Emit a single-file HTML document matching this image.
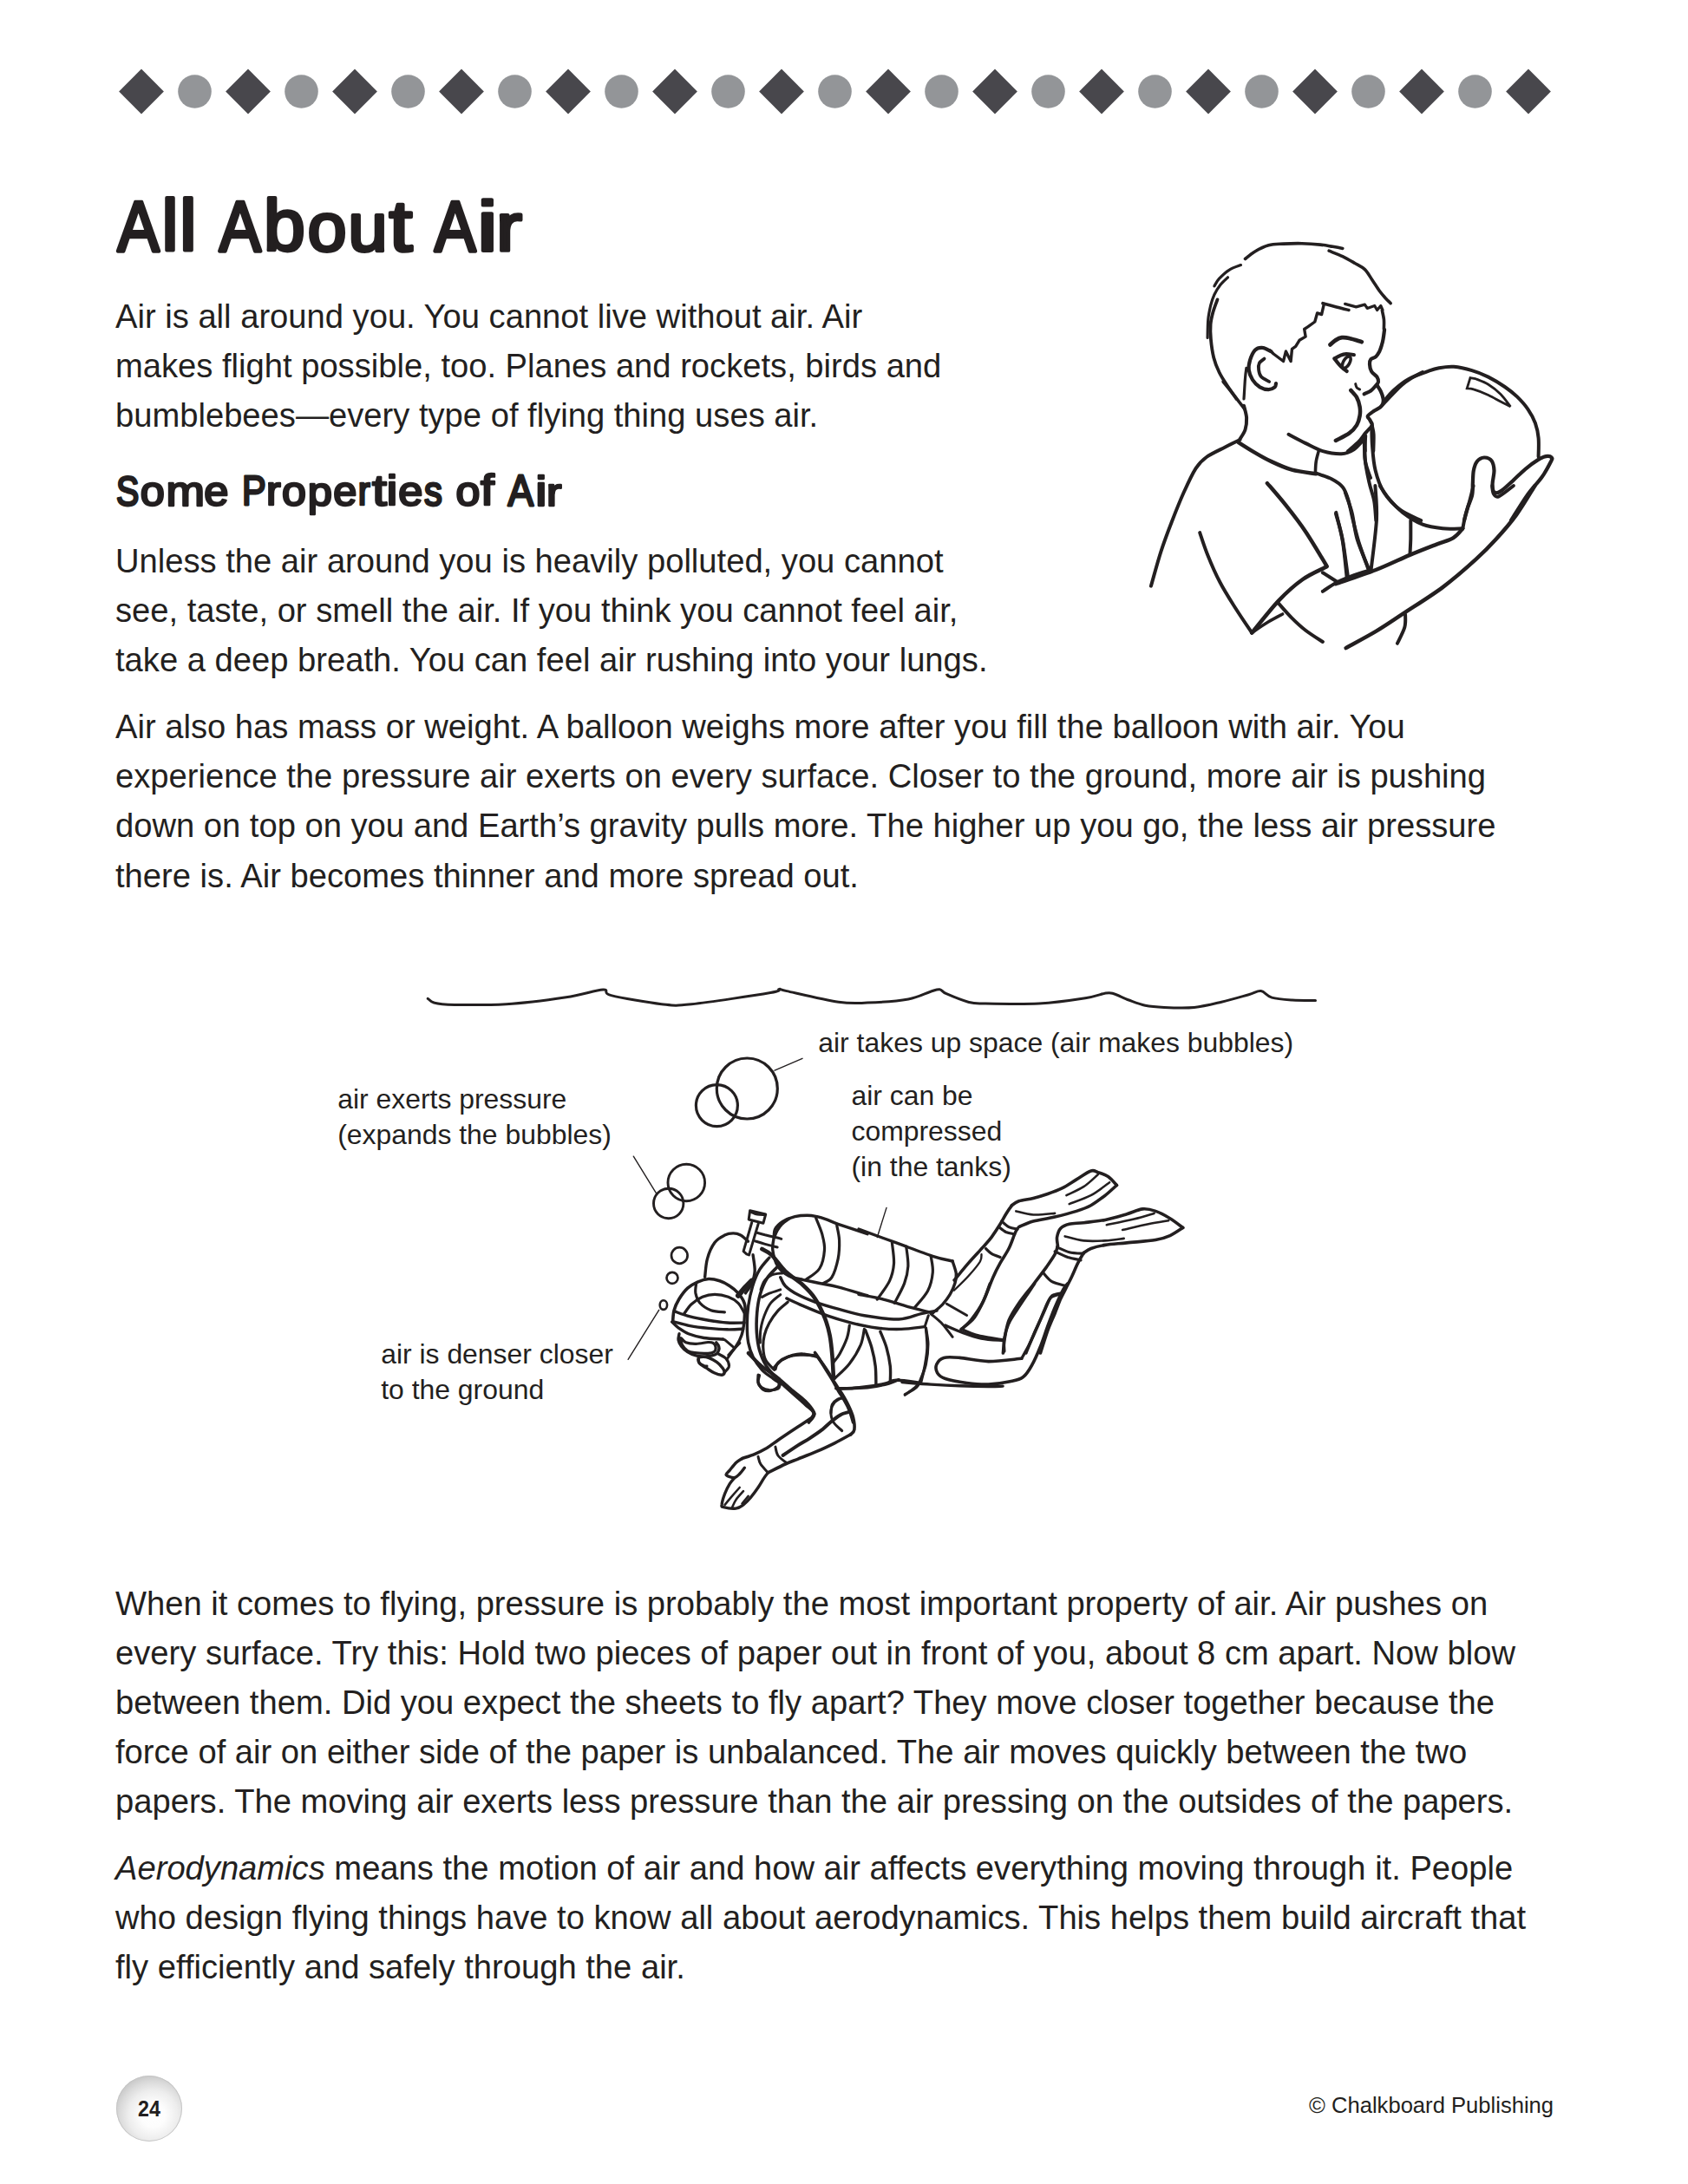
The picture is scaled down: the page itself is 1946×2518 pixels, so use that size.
<!DOCTYPE html>
<html><head><meta charset="utf-8"><style>
html,body{margin:0;padding:0;background:#fff;}
body{width:1946px;height:2518px;position:relative;overflow:hidden;font-family:"Liberation Sans",sans-serif;color:#231f20;}
.l{position:absolute;left:133px;font-size:38.17px;line-height:57.1px;white-space:nowrap;}
.lb{position:absolute;font-size:31.9px;line-height:41px;white-space:nowrap;}
.h1{position:absolute;left:131px;top:0;font-weight:bold;white-space:nowrap;}
svg{position:absolute;left:0;top:0;}
</style></head><body>
<svg width="1946" height="200" viewBox="0 0 1946 200"><rect x="144.7" y="87.2" width="36.6" height="36.6" transform="rotate(45 163.0 105.5)" fill="#48474c"/><circle cx="224.5" cy="105.5" r="19.3" fill="#939598"/><rect x="267.7" y="87.2" width="36.6" height="36.6" transform="rotate(45 286.0 105.5)" fill="#48474c"/><circle cx="347.5" cy="105.5" r="19.3" fill="#939598"/><rect x="390.7" y="87.2" width="36.6" height="36.6" transform="rotate(45 409.0 105.5)" fill="#48474c"/><circle cx="470.5" cy="105.5" r="19.3" fill="#939598"/><rect x="513.7" y="87.2" width="36.6" height="36.6" transform="rotate(45 532.0 105.5)" fill="#48474c"/><circle cx="593.5" cy="105.5" r="19.3" fill="#939598"/><rect x="636.7" y="87.2" width="36.6" height="36.6" transform="rotate(45 655.0 105.5)" fill="#48474c"/><circle cx="716.5" cy="105.5" r="19.3" fill="#939598"/><rect x="759.7" y="87.2" width="36.6" height="36.6" transform="rotate(45 778.0 105.5)" fill="#48474c"/><circle cx="839.5" cy="105.5" r="19.3" fill="#939598"/><rect x="882.7" y="87.2" width="36.6" height="36.6" transform="rotate(45 901.0 105.5)" fill="#48474c"/><circle cx="962.5" cy="105.5" r="19.3" fill="#939598"/><rect x="1005.7" y="87.2" width="36.6" height="36.6" transform="rotate(45 1024.0 105.5)" fill="#48474c"/><circle cx="1085.5" cy="105.5" r="19.3" fill="#939598"/><rect x="1128.7" y="87.2" width="36.6" height="36.6" transform="rotate(45 1147.0 105.5)" fill="#48474c"/><circle cx="1208.5" cy="105.5" r="19.3" fill="#939598"/><rect x="1251.7" y="87.2" width="36.6" height="36.6" transform="rotate(45 1270.0 105.5)" fill="#48474c"/><circle cx="1331.5" cy="105.5" r="19.3" fill="#939598"/><rect x="1374.7" y="87.2" width="36.6" height="36.6" transform="rotate(45 1393.0 105.5)" fill="#48474c"/><circle cx="1454.5" cy="105.5" r="19.3" fill="#939598"/><rect x="1497.7" y="87.2" width="36.6" height="36.6" transform="rotate(45 1516.0 105.5)" fill="#48474c"/><circle cx="1577.5" cy="105.5" r="19.3" fill="#939598"/><rect x="1620.7" y="87.2" width="36.6" height="36.6" transform="rotate(45 1639.0 105.5)" fill="#48474c"/><circle cx="1700.5" cy="105.5" r="19.3" fill="#939598"/><rect x="1743.7" y="87.2" width="36.6" height="36.6" transform="rotate(45 1762.0 105.5)" fill="#48474c"/></svg>
<svg width="1946" height="700" viewBox="0 0 1946 700" style="position:absolute;left:0;top:0"><g font-family="Liberation Sans" fill="#231f20" stroke="#231f20" stroke-linejoin="round" stroke-linecap="round"><text font-size="84" stroke-width="4.37" transform="translate(135.46 289.30) scale(0.8582 0.9742)">A</text><text font-size="84" stroke-width="3.99" transform="translate(186.45 289.30) scale(1.0159 0.9890)">l</text><text font-size="84" stroke-width="3.91" transform="translate(206.92 289.30) scale(1.0565 0.9890)">l</text><text font-size="84" stroke-width="4.37" transform="translate(252.76 289.30) scale(0.8582 0.9742)">A</text><text font-size="84" stroke-width="3.99" transform="translate(303.97 288.99) scale(1.0218 0.9840)">b</text><text font-size="84" stroke-width="4.26" transform="translate(354.63 289.04) scale(0.9556 0.9213)">o</text><text font-size="84" stroke-width="4.25" transform="translate(401.54 289.05) scale(0.9640 0.9204)">u</text><text font-size="84" stroke-width="3.72" transform="translate(448.53 289.14) scale(1.1561 0.9989)">t</text><text font-size="84" stroke-width="4.40" transform="translate(500.96 289.30) scale(0.8474 0.9742)">A</text><text font-size="84" stroke-width="3.56" transform="translate(549.79 289.30) scale(1.3003 0.9726)">i</text><text font-size="84" stroke-width="4.02" transform="translate(571.95 289.30) scale(1.0667 0.9270)">r</text><text font-size="52" stroke-width="3.08" transform="translate(134.11 582.52) scale(0.7583 0.9425)">S</text><text font-size="52" stroke-width="2.77" transform="translate(161.78 582.54) scale(0.9693 0.9091)">o</text><text font-size="52" stroke-width="2.69" transform="translate(191.56 582.50) scale(1.0265 0.9078)">m</text><text font-size="52" stroke-width="2.76" transform="translate(235.35 582.54) scale(0.9754 0.9091)">e</text><text font-size="52" stroke-width="3.02" transform="translate(278.89 582.20) scale(0.7985 0.9252)">P</text><text font-size="52" stroke-width="2.80" transform="translate(306.98 582.20) scale(0.9615 0.8971)">r</text><text font-size="52" stroke-width="2.78" transform="translate(324.89 582.54) scale(0.9653 0.9091)">o</text><text font-size="52" stroke-width="2.80" transform="translate(354.63 582.65) scale(0.9750 0.8853)">p</text><text font-size="52" stroke-width="2.81" transform="translate(384.23 582.54) scale(0.9385 0.9091)">e</text><text font-size="52" stroke-width="3.05" transform="translate(412.81 582.20) scale(0.8077 0.8971)">r</text><text font-size="52" stroke-width="2.44" transform="translate(428.88 582.61) scale(1.1748 0.9640)">t</text><text font-size="52" stroke-width="2.55" transform="translate(445.62 582.20) scale(1.1159 0.9315)">i</text><text font-size="52" stroke-width="2.76" transform="translate(459.15 582.54) scale(0.9754 0.9091)">e</text><text font-size="52" stroke-width="3.04" transform="translate(488.94 582.54) scale(0.8027 0.9116)">s</text><text font-size="52" stroke-width="2.78" transform="translate(525.59 582.54) scale(0.9653 0.9091)">o</text><text font-size="52" stroke-width="2.55" transform="translate(554.00 582.20) scale(1.0880 0.9567)">f</text><text font-size="52" stroke-width="2.88" transform="translate(585.61 582.50) scale(0.8527 0.9560)">A</text><text font-size="52" stroke-width="2.46" transform="translate(616.99 582.50) scale(1.1815 0.9422)">i</text><text font-size="52" stroke-width="2.78" transform="translate(629.92 582.50) scale(1.0077 0.8685)">r</text></g></svg>
<div class="l" style="top:335.5px">Air is all around you. You cannot live without air. Air</div><div class="l" style="top:392.6px">makes flight possible, too. Planes and rockets, birds and</div><div class="l" style="top:449.7px">bumblebees—every type of flying thing uses air.</div><div class="l" style="top:617.7px">Unless the air around you is heavily polluted, you cannot</div><div class="l" style="top:674.8px">see, taste, or smell the air. If you think you cannot feel air,</div><div class="l" style="top:731.9px">take a deep breath. You can feel air rushing into your lungs.</div><div class="l" style="top:809.2px">Air also has mass or weight. A balloon weighs more after you fill the balloon with air. You</div><div class="l" style="top:866.3px">experience the pressure air exerts on every surface. Closer to the ground, more air is pushing</div><div class="l" style="top:923.4px">down on top on you and Earth’s gravity pulls more. The higher up you go, the less air pressure</div><div class="l" style="top:980.5px">there is. Air becomes thinner and more spread out.</div><div class="l" style="top:1819.6px">When it comes to flying, pressure is probably the most important property of air. Air pushes on</div><div class="l" style="top:1876.7px">every surface. Try this: Hold two pieces of paper out in front of you, about 8 cm apart. Now blow</div><div class="l" style="top:1933.8px">between them. Did you expect the sheets to fly apart? They move closer together because the</div><div class="l" style="top:1990.9px">force of air on either side of the paper is unbalanced. The air moves quickly between the two</div><div class="l" style="top:2048.0px">papers. The moving air exerts less pressure than the air pressing on the outsides of the papers.</div><div class="l" style="top:2125.2px"><i>Aerodynamics</i> means the motion of air and how air affects everything moving through it. People</div><div class="l" style="top:2182.3px">who design flying things have to know all about aerodynamics. This helps them build aircraft that</div><div class="l" style="top:2239.4px">fly efficiently and safely through the air.</div><div class="lb" style="left:943.3px;top:1181.6px">air takes up space (air makes bubbles)</div><div class="lb" style="left:389.2px;top:1246.6px">air exerts pressure</div><div class="lb" style="left:389.2px;top:1287.6px">(expands the bubbles)</div><div class="lb" style="left:981.5px;top:1243.0px">air can be</div><div class="lb" style="left:981.5px;top:1284.0px">compressed</div><div class="lb" style="left:981.5px;top:1325.0px">(in the tanks)</div><div class="lb" style="left:439.2px;top:1540.6px">air is denser closer</div><div class="lb" style="left:439.2px;top:1581.6px">to the ground</div>
<svg width="1946" height="2518" viewBox="0 0 1946 2518" style="position:absolute;left:0;top:0"><g fill="none" stroke="#231f20" stroke-linecap="round" stroke-linejoin="round"><path d="M1435.5,298.5C1437.3,297.1 1442.3,292.6 1446.8,290.0C1451.3,287.3 1457.0,284.3 1462.5,282.8C1467.9,281.4 1473.1,281.5 1479.5,281.1C1485.9,280.8 1493.7,280.5 1500.9,280.7C1508.0,280.9 1516.3,281.5 1522.2,282.1C1528.1,282.7 1532.1,283.6 1536.4,284.3C1540.7,285.0 1545.9,286.0 1547.8,286.4" stroke-width="3.6"/><path d="M1532.1,289.2C1534.7,290.3 1542.8,293.3 1547.8,295.6C1552.7,298.0 1557.7,301.0 1562.0,303.5C1566.3,305.9 1570.0,307.4 1573.4,310.6C1576.7,313.8 1579.1,318.5 1581.9,322.7C1584.7,326.8 1587.8,331.9 1590.4,335.5C1593.0,339.0 1595.4,341.6 1597.5,344.0C1599.7,346.4 1602.3,348.7 1603.2,349.7" stroke-width="3.6"/><path d="M1430.5,305.6C1428.2,306.5 1421.1,308.7 1417.0,311.3C1412.8,313.9 1408.4,318.2 1405.6,321.2C1402.7,324.3 1400.9,328.3 1399.9,329.8" stroke-width="3.2"/><path d="M1415.5,319.8C1414.1,321.2 1409.6,325.0 1407.0,328.3C1404.4,331.7 1401.8,335.7 1399.9,339.7C1398.0,343.7 1396.8,347.8 1395.6,352.5C1394.5,357.3 1393.4,362.0 1392.8,368.2C1392.2,374.3 1392.2,385.9 1392.1,389.5" stroke-width="3.2"/><path d="M1403.5,345.4C1402.6,347.8 1399.8,354.9 1398.5,359.6C1397.2,364.4 1396.1,368.6 1395.6,373.8C1395.2,379.1 1395.3,384.5 1395.9,390.9C1396.5,397.3 1397.6,405.8 1399.2,412.2C1400.8,418.6 1403.1,424.1 1405.6,429.3C1408.1,434.5 1410.8,438.4 1414.1,443.5C1417.4,448.6 1423.6,457.3 1425.5,460.0" stroke-width="3.8"/><path d="M1525.0,349.7C1527.6,350.4 1535.7,352.6 1540.7,353.9C1545.6,355.2 1552.5,356.9 1554.9,357.5" stroke-width="3.6"/><path d="M1550.6,350.4 L1563.4,353.9 L1573.4,351.1 L1576.2,355.4 L1584.7,352.5 L1587.6,357.5 L1591.8,352.5 L1594.0,357.5" stroke-width="3.2"/><path d="M1526.4,350.4 L1523.6,362.5 L1518.6,361.0 L1515.8,371.0 L1508.0,376.7 L1503.7,379.5 L1505.1,388.1 L1498.0,392.3 L1493.7,399.4 L1489.5,402.3 L1488.1,416.5 L1482.4,405.1 L1479.5,416.5 L1468.2,408.0 L1463.9,403.7" stroke-width="3.4"/><path d="M1465.3,405.1C1463.6,404.4 1458.4,401.1 1455.4,400.9C1452.3,400.6 1449.2,401.3 1446.8,403.7C1444.5,406.1 1442.3,411.3 1441.1,415.1C1440.0,418.9 1439.2,422.7 1439.7,426.4C1440.2,430.2 1441.8,434.5 1444.0,437.8C1446.1,441.1 1449.4,444.5 1452.5,446.4C1455.6,448.2 1459.6,449.2 1462.5,449.2C1465.3,449.2 1468.2,447.5 1469.6,446.4C1471.0,445.2 1470.8,442.8 1471.0,442.1" stroke-width="4.2"/><path d="M1457.5,413.6C1456.5,414.5 1452.9,416.5 1451.8,418.6C1450.7,420.8 1450.7,423.8 1451.1,426.4C1451.4,429.1 1451.9,432.0 1453.9,434.3C1455.9,436.5 1461.6,439.0 1463.2,440.0" stroke-width="3.8"/><path d="M1436.9,424.3C1436.6,426.3 1435.9,430.5 1435.5,436.4C1435.0,442.3 1434.3,456.1 1434.0,460.0" stroke-width="3.2"/><path d="M1593.3,357.5C1593.6,359.3 1595.0,364.5 1595.4,368.2C1595.8,371.8 1595.4,377.6 1595.4,379.5" stroke-width="3.6"/><path d="M1410.1,440.0C1411.8,442.1 1416.8,448.1 1420.1,452.3C1423.5,456.6 1427.7,462.2 1430.1,465.4C1432.6,468.6 1434.0,470.5 1434.8,471.6" stroke-width="3.6"/><path d="M1533.5,397.4C1534.6,396.5 1537.7,393.4 1539.9,392.1C1542.2,390.7 1544.4,389.6 1547.0,389.2C1549.6,388.9 1551.8,389.1 1555.5,390.0C1559.3,390.8 1567.4,393.5 1569.8,394.2" stroke-width="4.8"/><path d="M1538.5,413.4C1539.5,412.8 1542.6,410.7 1544.9,409.9C1547.1,409.0 1549.3,408.2 1552.0,408.1C1554.7,408.0 1559.4,409.0 1560.9,409.1" stroke-width="4.2"/><path d="M1538.5,413.4C1539.3,414.5 1541.8,417.9 1543.5,419.8C1545.1,421.7 1546.9,423.4 1548.4,424.8C1550.0,426.1 1552.0,427.5 1552.7,428.0" stroke-width="4.2"/><path d="M1596.1,380.0C1595.8,381.8 1595.2,387.5 1594.6,390.7C1594.1,393.9 1593.2,396.8 1592.5,399.2C1591.8,401.6 1591.4,402.9 1590.4,404.9C1589.3,406.9 1587.8,409.7 1586.1,411.3C1584.5,412.8 1581.6,412.7 1580.4,414.1C1579.2,415.5 1578.9,417.4 1579.0,419.8C1579.1,422.2 1579.7,425.9 1581.1,428.3C1582.6,430.8 1586.2,432.7 1587.5,434.7C1588.8,436.8 1589.3,438.6 1589.0,440.4C1588.6,442.2 1586.8,443.7 1585.4,445.4C1584.0,447.1 1582.6,448.9 1580.4,450.4C1578.3,451.9 1573.9,453.6 1572.6,454.3" stroke-width="4.2"/><path d="M1587.5,444.0C1588.2,445.2 1590.6,448.5 1591.8,451.1C1593.0,453.7 1594.2,457.3 1594.6,459.6C1595.1,462.0 1594.9,463.6 1594.3,465.3C1593.7,467.0 1592.8,468.2 1591.1,469.6C1589.4,471.0 1586.4,472.2 1584.0,473.8C1581.6,475.5 1577.7,477.9 1576.9,479.5C1576.0,481.2 1578.2,482.3 1579.0,483.8C1579.8,485.3 1581.4,487.9 1581.8,488.8" stroke-width="4.2"/><path d="M1593.9,466.7C1595.8,464.7 1601.6,458.4 1605.3,454.6C1609.0,450.9 1612.4,447.1 1616.0,444.0C1619.5,440.9 1622.6,438.6 1626.6,436.2C1630.6,433.7 1637.8,430.2 1640.0,429.1" stroke-width="4"/><path d="M1557.3,450.0C1558.4,451.4 1562.4,455.1 1564.1,458.2C1565.8,461.3 1567.0,465.3 1567.6,468.9C1568.2,472.4 1568.2,476.0 1567.6,479.5C1567.0,483.1 1566.1,486.9 1564.1,490.2C1562.1,493.5 1559.6,496.5 1555.5,499.4C1551.5,502.4 1542.5,506.5 1539.9,508.0" stroke-width="4.5"/><path d="M1562.7,442.6C1562.9,443.3 1563.2,445.8 1564.1,446.8C1564.9,447.9 1567.0,448.6 1567.6,449.0" stroke-width="3"/><path d="M1581.8,490.9C1580.5,492.3 1576.6,496.4 1574.0,499.4C1571.4,502.5 1569.5,506.0 1566.2,509.4C1562.9,512.8 1556.1,518.2 1554.1,520.0" stroke-width="4"/><path d="M1581.8,490.9C1582.1,492.6 1583.4,496.0 1583.6,500.9C1583.9,505.7 1583.3,516.8 1583.3,520.0" stroke-width="4"/><path d="M1573.3,500.9L1574.0,520.0" stroke-width="3.6"/><path d="M1595.5,462.6C1597.4,460.4 1602.2,454.0 1606.9,449.8C1611.7,445.5 1617.6,440.5 1624.0,437.0C1630.4,433.4 1639.5,430.6 1645.3,428.4C1651.1,426.3 1653.8,425.2 1659.0,424.2C1664.1,423.3 1669.7,422.3 1676.0,422.8C1682.3,423.3 1690.2,425.1 1696.9,427.1C1703.5,429.0 1709.5,431.5 1715.8,434.6C1722.1,437.8 1729.3,442.2 1734.8,446.0C1740.3,449.8 1744.6,453.1 1749.0,457.4C1753.4,461.7 1757.9,466.6 1761.3,471.6C1764.8,476.7 1767.8,482.2 1769.9,487.7C1771.9,493.3 1773.0,498.3 1773.6,504.8C1774.3,511.3 1773.6,523.0 1773.6,526.6" stroke-width="4"/><path d="M1581.3,491.0C1581.4,494.8 1581.3,505.2 1582.0,513.7C1582.7,522.3 1583.3,533.2 1585.6,542.2C1587.8,551.2 1590.8,560.2 1595.5,567.8C1600.3,575.4 1606.9,582.3 1614.0,587.7C1621.1,593.1 1634.2,598.0 1638.2,600.0" stroke-width="4"/><path d="M1574.2,502.4C1574.1,506.6 1572.8,519.0 1573.5,528.0C1574.2,537.0 1576.7,548.1 1578.5,556.4C1580.3,564.7 1582.9,570.5 1584.2,577.7C1585.5,585.0 1585.9,596.3 1586.3,600.0" stroke-width="4"/><path d="M1688.0,600.0C1688.7,597.5 1690.7,589.7 1692.2,584.8C1693.8,579.9 1696.3,575.1 1697.2,570.6C1698.1,566.1 1697.6,562.5 1697.8,557.9C1698.1,553.2 1698.0,547.0 1698.8,542.7C1699.6,538.4 1700.5,534.8 1702.6,532.3C1704.6,529.7 1708.2,527.7 1711.1,527.5C1713.9,527.4 1717.7,528.8 1719.6,531.3C1721.5,533.9 1722.3,538.3 1722.5,542.7C1722.6,547.1 1720.6,553.8 1720.6,557.9C1720.6,562.0 1720.9,565.9 1722.5,567.3C1724.0,568.8 1726.4,568.6 1730.0,566.4C1733.7,564.2 1739.5,558.3 1744.3,554.1C1749.0,549.8 1753.7,544.8 1758.5,540.8C1763.2,536.9 1768.8,532.8 1772.7,530.4C1776.7,527.9 1779.5,526.6 1782.2,526.1C1784.9,525.6 1787.9,526.5 1788.8,527.5C1789.8,528.6 1789.8,528.5 1787.9,532.3C1786.0,536.1 1781.9,544.0 1777.4,550.3C1773.0,556.6 1767.2,561.7 1761.3,570.0C1755.4,578.3 1745.2,595.0 1742.0,600.0" stroke-width="4.2"/><path d="M1434.0,467.7C1434.5,470.0 1436.8,477.0 1437.1,481.6C1437.3,486.2 1436.8,491.3 1435.5,495.5C1434.2,499.6 1430.4,504.4 1429.4,506.2" stroke-width="4"/><path d="M1429.4,507.0C1426.5,508.4 1418.8,512.1 1412.4,515.5C1406.0,518.8 1396.5,522.9 1390.9,527.0C1385.2,531.1 1382.9,533.3 1378.5,540.1C1374.2,546.9 1369.3,557.6 1364.7,567.8C1360.0,578.1 1355.2,590.4 1350.8,601.7C1346.4,613.0 1342.5,623.3 1338.5,635.6C1334.5,647.9 1328.9,669.0 1326.9,675.7" stroke-width="4"/><path d="M1427.8,510.1C1430.9,512.0 1439.9,517.9 1446.3,521.6C1452.7,525.4 1459.1,529.1 1466.3,532.4C1473.5,535.8 1481.0,539.3 1489.4,541.7C1497.9,544.0 1512.5,545.5 1517.2,546.3" stroke-width="4.5"/><path d="M1520.2,520.1C1519.7,522.1 1517.8,528.1 1517.2,532.4C1516.5,536.8 1516.5,544.0 1516.4,546.3" stroke-width="3.6"/><path d="M1485.6,500.8C1488.8,502.5 1498.3,507.6 1504.8,510.9C1511.4,514.1 1517.9,518.0 1524.9,520.1C1531.8,522.1 1540.5,523.4 1546.4,523.2C1552.3,522.9 1555.9,521.4 1560.3,518.6C1564.6,515.7 1570.6,508.3 1572.6,506.2" stroke-width="4"/><path d="M1517.2,545.5C1520.2,546.7 1530.5,549.7 1535.6,552.4C1540.8,555.1 1544.9,557.8 1548.0,561.7C1551.0,565.5 1552.2,569.4 1554.1,575.5C1556.0,581.7 1557.5,590.4 1559.5,598.6C1561.6,606.9 1563.5,615.3 1566.4,624.8C1569.4,634.3 1575.4,650.5 1577.2,655.6" stroke-width="4"/><path d="M1572.6,504.7C1572.9,509.3 1572.9,524.7 1574.1,532.4C1575.4,540.1 1579.0,547.8 1580.0,550.9" stroke-width="4"/><path d="M1460.9,557.1C1464.4,561.2 1474.4,572.5 1481.7,581.7C1489.0,590.9 1496.9,600.7 1504.8,612.5C1512.8,624.3 1525.4,645.9 1529.5,652.6" stroke-width="4.5"/><path d="M1529.5,653.3C1524.9,655.8 1511.0,661.4 1501.8,668.0C1492.5,674.5 1483.8,682.3 1474.0,692.6C1464.3,702.9 1448.4,723.4 1443.2,729.6" stroke-width="4.5"/><path d="M1383.2,614.1C1384.7,618.4 1388.5,630.7 1392.4,640.2C1396.2,649.7 1400.9,660.8 1406.3,671.0C1411.6,681.3 1418.6,692.1 1424.7,701.8C1430.9,711.6 1440.1,725.0 1443.2,729.6" stroke-width="4"/><path d="M1443.2,729.6C1446.3,727.5 1455.8,720.8 1461.7,717.3C1467.6,713.7 1475.8,709.5 1478.6,708.0" stroke-width="3.6"/><path d="M1474.0,695.7C1476.6,698.5 1484.3,707.5 1489.4,712.6C1494.6,717.8 1498.9,721.9 1504.8,726.5C1510.7,731.1 1521.5,737.8 1524.9,740.0" stroke-width="4"/><path d="M1540.3,590.9C1541.5,596.6 1545.9,612.5 1548.0,624.8C1550.0,637.2 1551.8,658.2 1552.6,664.9" stroke-width="4"/><path d="M1524.9,681.8C1527.7,680.0 1535.9,674.1 1541.8,671.0C1547.7,668.0 1553.9,665.7 1560.3,663.3C1566.7,661.0 1576.7,658.2 1580.0,657.2" stroke-width="4"/><path d="M1524.9,660.3L1541.8,671.0" stroke-width="4"/><path d="M1540.0,673.2C1547.7,670.5 1572.1,662.6 1586.2,657.0C1600.3,651.5 1613.2,645.0 1624.7,640.1C1636.3,635.2 1647.0,631.1 1655.5,627.8C1664.0,624.4 1670.4,623.2 1675.5,620.1C1680.7,617.0 1684.5,611.1 1686.3,609.3" stroke-width="4.5"/><path d="M1590.8,560.0C1592.6,562.6 1597.2,570.3 1601.6,575.4C1606.0,580.5 1610.6,585.9 1617.0,590.8C1623.4,595.7 1632.4,601.6 1640.1,604.7C1647.8,607.7 1655.5,608.5 1663.2,609.3C1670.9,610.1 1682.5,609.3 1686.3,609.3" stroke-width="4"/><path d="M1686.3,609.3C1686.8,606.7 1688.1,599.0 1689.4,593.9C1690.7,588.8 1692.5,584.1 1694.0,578.5C1695.6,572.8 1697.9,563.1 1698.6,560.0" stroke-width="4"/><path d="M1551.6,747.1C1557.3,743.9 1575.3,734.4 1586.2,727.9C1597.1,721.3 1604.2,716.3 1617.0,707.9C1629.8,699.4 1649.1,687.6 1663.2,677.1C1677.3,666.5 1691.5,654.0 1701.7,644.7C1712.0,635.5 1717.1,630.1 1724.8,621.6C1732.5,613.1 1740.5,604.2 1747.9,593.9C1755.4,583.6 1765.9,565.6 1769.5,560.0" stroke-width="4.5"/><path d="M1620.1,708.6C1620.0,711.1 1620.9,717.8 1619.3,723.3C1617.8,728.8 1612.3,738.7 1610.9,741.8" stroke-width="4"/><path d="M1540.0,592.3C1541.3,597.2 1545.4,609.5 1547.7,621.6C1550.0,633.7 1552.8,657.6 1553.9,664.7" stroke-width="4"/><path d="M1550.8,567.7C1552.1,571.6 1556.2,581.8 1558.5,590.8C1560.8,599.8 1561.4,610.8 1564.6,621.6C1567.9,632.4 1575.6,649.8 1577.7,655.5" stroke-width="4"/><path d="M1585.4,560.0C1585.7,566.4 1587.7,582.6 1587.0,598.5C1586.2,614.4 1581.8,646.0 1580.8,655.5" stroke-width="4"/><path d="M1626.3,600.0C1626.3,603.6 1626.4,615.2 1626.3,621.6C1626.1,628.0 1625.6,635.7 1625.5,638.6" stroke-width="4"/><path d="M1720.2,560.0C1720.5,561.5 1720.5,567.2 1721.8,569.2C1723.0,571.3 1724.1,573.9 1727.9,572.3C1731.8,570.8 1742.0,562.1 1744.9,560.0" stroke-width="4"/></g><path fill="none" stroke="#231f20" stroke-width="2.8" stroke-linejoin="miter" d="M1695.0,435.6 L1700.7,436.5C1703.2,437.6 1710.9,440.2 1715.8,443.2C1720.7,446.2 1725.8,450.3 1730.0,454.5C1734.3,458.8 1739.5,466.4 1741.4,468.8 L1741.4,468.8C1739.5,467.8 1734.3,465.3 1730.0,463.1C1725.8,460.9 1721.0,457.9 1715.8,455.5C1710.6,453.1 1702.9,450.1 1698.8,448.9C1694.7,447.6 1692.4,448.1 1691.2,447.9 Z"/><ellipse cx="1552.3" cy="417.7" rx="3.6" ry="7.5" transform="rotate(30 1552.3 417.7)" fill="none" stroke="#231f20" stroke-width="3.6"/></svg>
<svg width="1946" height="2518" viewBox="0 0 1946 2518" style="position:absolute;left:0;top:0"><g fill="none" stroke="#231f20" stroke-linecap="round" stroke-linejoin="round"><path stroke-width="3" d="M493.2,1151.4C496.0,1152.5 494.7,1156.7 509.8,1157.7C524.9,1158.8 559.8,1159.0 583.6,1157.7C607.4,1156.4 634.1,1152.6 652.7,1149.8C671.3,1147.0 686.5,1141.4 695.1,1141.0C703.7,1140.6 693.2,1144.8 704.5,1147.6C715.8,1150.4 747.2,1156.0 762.6,1157.7C778.0,1159.4 776.2,1159.9 797.1,1157.7C818.0,1155.5 871.4,1147.4 888.2,1144.5C905.1,1141.6 895.1,1140.7 898.2,1140.4C901.3,1140.1 895.6,1140.1 907.0,1142.6C918.4,1145.1 951.1,1153.0 966.6,1155.2C982.1,1157.5 986.6,1156.6 1000.0,1156.1C1013.4,1155.6 1035.1,1154.1 1047.1,1152.0C1059.1,1149.9 1066.2,1145.4 1072.2,1143.5C1078.2,1141.6 1080.1,1140.3 1083.2,1140.7C1086.3,1141.1 1085.5,1143.3 1091.0,1145.7C1096.5,1148.1 1108.9,1153.3 1116.2,1155.2C1123.5,1157.1 1121.4,1156.7 1135.0,1157.0C1148.6,1157.3 1178.4,1158.0 1197.8,1157.0C1217.2,1156.0 1238.4,1152.8 1251.2,1150.8C1264.0,1148.8 1269.2,1145.9 1274.7,1145.1C1280.2,1144.2 1279.6,1144.4 1284.1,1145.7C1288.5,1147.0 1295.4,1150.8 1301.4,1153.0C1307.4,1155.2 1313.5,1157.8 1320.3,1159.2C1327.1,1160.6 1332.8,1161.0 1342.2,1161.4C1351.6,1161.8 1365.8,1162.4 1376.8,1161.4C1387.8,1160.4 1397.7,1157.7 1408.2,1155.2C1418.7,1152.8 1432.0,1148.8 1439.6,1146.7C1447.2,1144.6 1449.3,1142.0 1453.7,1142.6C1458.1,1143.2 1460.2,1148.4 1466.2,1150.1C1472.2,1151.8 1481.4,1152.4 1489.8,1153.0C1498.2,1153.6 1512.0,1153.5 1516.5,1153.6"/><circle cx="861.3" cy="1255" r="35" stroke-width="3.2"/><circle cx="826.4" cy="1274.6" r="24" stroke-width="3.2"/><circle cx="791.3" cy="1363.5" r="21.3" stroke-width="2.9"/><circle cx="770.7" cy="1387.5" r="17.2" stroke-width="2.9"/><circle cx="783.3" cy="1447.5" r="9.3" stroke-width="2.7"/><circle cx="775" cy="1473.3" r="6.5" stroke-width="2.7"/><ellipse cx="764.9" cy="1504.6" rx="4.2" ry="5.3" stroke-width="2.6"/><path stroke-width="1.4" d="M893,1234.1 L925,1220.3"/><path stroke-width="1.4" d="M730.3,1333.2 L756.3,1375.4"/><path stroke-width="1.4" d="M759.7,1510.3 L724.1,1567.3"/><path stroke-width="1.4" d="M1011.3,1426.5 L1022,1392.4"/><path d="M892.2,1426.9C892.5,1425.3 892.0,1420.0 893.6,1417.0C895.3,1413.9 898.4,1410.8 902.2,1408.4C906.0,1406.1 911.7,1403.9 916.4,1402.7C921.1,1401.6 926.4,1401.3 930.6,1401.3C934.9,1401.3 938.4,1402.0 942.0,1402.7C945.5,1403.5 947.9,1404.2 951.9,1405.6C956.0,1407.0 958.2,1408.4 966.2,1411.3C974.2,1414.1 994.4,1420.8 1000.0,1422.7" stroke-width="3.4"/><path d="M892.2,1426.9C892.0,1429.3 890.1,1435.7 890.8,1441.1C891.5,1446.6 893.4,1454.6 896.5,1459.6C899.6,1464.6 904.5,1468.4 909.3,1471.0C914.0,1473.6 922.3,1474.5 924.9,1475.3" stroke-width="3.4"/><path d="M924.9,1475.3C928.2,1476.0 938.0,1478.1 944.8,1479.5C951.7,1480.9 957.0,1481.4 966.2,1483.8C975.4,1486.2 994.4,1492.1 1000.0,1493.7" stroke-width="3.4"/><path d="M940.6,1404.2C941.8,1407.3 946.0,1416.5 947.7,1422.7C949.3,1428.8 951.0,1434.5 950.5,1441.1C950.0,1447.8 948.4,1456.8 944.8,1462.5C941.3,1468.2 931.8,1473.1 929.2,1475.3" stroke-width="3.2"/><path d="M964.7,1412.7C965.2,1415.5 967.3,1423.4 967.6,1429.8C967.8,1436.2 967.6,1444.0 966.2,1451.1C964.7,1458.2 961.9,1467.7 959.1,1472.4C956.2,1477.2 950.8,1478.3 949.1,1479.5" stroke-width="3.2"/><path d="M864.6,1395.7 L882.7,1400.0 L879.9,1410.3 L863.2,1406.0Z" stroke-width="3"/><path d="M865.6,1397.5C866.9,1397.9 870.4,1399.8 873.1,1400.3C875.8,1400.8 880.2,1400.6 881.6,1400.7" stroke-width="2.6"/><path d="M866.7,1409.5 L857.1,1442.6 L860.7,1445.8 L863.5,1446.9 L874.2,1411.0" stroke-width="3"/><path d="M872.7,1421.3C874.3,1421.7 878.7,1422.9 882.0,1423.8C885.3,1424.6 889.5,1425.5 892.7,1426.3C895.8,1427.0 899.5,1428.0 900.8,1428.4" stroke-width="3"/><path d="M892.7,1426.3C893.2,1425.0 894.7,1420.9 896.2,1418.4C897.7,1415.9 899.2,1413.6 901.5,1411.3C903.8,1409.1 908.6,1406.0 910.0,1404.9" stroke-width="3.4"/><path d="M870.6,1430.9C872.5,1431.5 877.7,1433.2 882.0,1434.4C886.3,1435.6 893.8,1437.4 896.2,1438.0" stroke-width="3"/><path d="M812.6,1472.4C813.1,1468.9 813.6,1457.7 815.5,1451.1C817.3,1444.5 820.7,1437.1 824.0,1432.6C827.3,1428.1 831.8,1425.9 835.4,1424.1C838.9,1422.3 842.2,1421.9 845.3,1421.9C848.4,1421.9 851.0,1422.5 853.8,1424.1C856.7,1425.6 860.9,1430.0 862.4,1431.2" stroke-width="3.4"/><path d="M868.1,1446.8C868.4,1449.9 870.4,1459.9 870.2,1465.3C870.0,1470.8 868.4,1475.3 866.6,1479.5C864.9,1483.8 860.7,1489.0 859.5,1490.9" stroke-width="3.4"/><path d="M851.0,1493.7 L859.5,1483.8 L866.6,1476.7" stroke-width="6"/><path d="M775.6,1523.6C775.9,1521.5 775.9,1515.1 777.1,1510.8C778.2,1506.5 780.1,1502.3 782.7,1498.0C785.4,1493.7 789.1,1488.5 792.7,1485.2C796.3,1481.9 800.0,1479.9 804.1,1478.1C808.1,1476.3 812.6,1474.8 816.9,1474.5C821.1,1474.3 825.6,1475.4 829.7,1476.7C833.7,1478.0 837.5,1480.0 841.0,1482.4C844.6,1484.7 848.2,1487.6 851.0,1490.9C853.8,1494.2 856.7,1498.2 858.1,1502.3C859.5,1506.3 859.3,1512.9 859.5,1515.1" stroke-width="3.6"/><path d="M778.5,1512.2C781.3,1513.2 789.1,1516.3 795.5,1517.9C801.9,1519.6 809.8,1521.0 816.9,1522.2C824.0,1523.4 831.3,1524.5 838.2,1525.0C845.1,1525.5 854.8,1525.0 858.1,1525.0" stroke-width="3.4"/><path d="M775.6,1523.6C779.0,1524.4 788.7,1527.3 795.5,1528.6C802.4,1529.9 809.8,1530.7 816.9,1531.4C824.0,1532.1 831.6,1532.7 838.2,1532.8C844.8,1533.0 853.6,1532.3 856.7,1532.1" stroke-width="3.4"/><path d="M802.7,1479.5C802.5,1481.4 801.2,1487.1 801.9,1490.9C802.7,1494.7 804.0,1499.0 806.9,1502.3C809.9,1505.6 815.0,1509.0 819.7,1510.8C824.5,1512.6 832.7,1512.6 835.4,1512.9" stroke-width="3.2"/><path d="M788.4,1515.1C789.9,1513.2 793.4,1507.0 797.0,1503.7C800.5,1500.4 805.3,1497.1 809.8,1495.2C814.3,1493.3 819.0,1492.3 824.0,1492.3C829.0,1492.3 835.1,1493.5 839.6,1495.2C844.1,1496.8 847.9,1499.2 851.0,1502.3C854.1,1505.4 856.9,1511.8 858.1,1513.6" stroke-width="3.2"/><path d="M783.0,1537.8C782.9,1539.0 781.7,1542.5 782.1,1544.9C782.5,1547.3 783.7,1549.7 785.4,1552.0C787.1,1554.3 789.5,1556.6 792.5,1558.5C795.5,1560.4 799.4,1562.4 803.2,1563.2C806.9,1564.1 811.4,1564.1 815.0,1563.8C818.7,1563.5 822.8,1562.7 825.1,1561.5C827.4,1560.3 828.1,1558.3 828.6,1556.7C829.2,1555.2 829.1,1553.5 828.6,1552.0C828.2,1550.5 826.2,1548.5 825.7,1547.8" stroke-width="3.4"/><path d="M784.8,1542.5C785.5,1542.0 787.8,1546.7 790.7,1547.8C793.7,1549.0 798.3,1549.4 802.6,1549.3C806.8,1549.3 813.0,1547.7 816.2,1547.5C819.5,1547.4 820.7,1547.5 822.1,1548.4C823.6,1549.4 824.9,1551.5 825.1,1553.2C825.3,1554.9 824.8,1557.3 823.3,1558.5C821.8,1559.7 820.0,1560.1 816.2,1560.3C812.5,1560.5 804.8,1560.2 800.8,1559.7C796.9,1559.2 794.9,1558.8 792.5,1557.3C790.1,1555.8 787.9,1553.3 786.6,1550.8C785.3,1548.3 784.1,1543.0 784.8,1542.5Z" stroke-width="3.2"/><path d="M805.0,1566.2C804.4,1567.5 805.2,1570.4 806.7,1572.1C808.2,1573.9 811.1,1575.1 813.8,1576.9C816.6,1578.6 820.3,1581.4 823.3,1582.8C826.4,1584.2 830.2,1585.3 832.2,1585.2C834.2,1585.1 835.1,1583.6 835.2,1582.2C835.3,1580.8 834.3,1578.8 832.8,1576.9C831.3,1574.9 828.8,1572.2 826.3,1570.4C823.7,1568.5 820.1,1566.6 817.4,1565.6C814.7,1564.6 812.4,1564.3 810.3,1564.4C808.2,1564.5 805.5,1564.9 805.0,1566.2Z" stroke-width="3.4"/><path d="M828.1,1560.9C829.5,1561.8 834.9,1563.9 836.9,1566.2C839.0,1568.5 840.3,1572.3 840.5,1574.5C840.7,1576.7 839.0,1578.0 838.1,1579.2C837.2,1580.5 835.7,1581.7 835.2,1582.2" stroke-width="3.2"/><path d="M805.5,1565.0C805.6,1566.0 805.2,1569.4 806.1,1570.9C807.1,1572.5 810.0,1573.8 811.5,1574.5C813.0,1575.2 814.4,1575.0 815.0,1575.1" stroke-width="3"/><path d="M774.7,1524.1C775.9,1525.2 778.7,1528.4 781.8,1530.7C785.0,1532.9 788.8,1535.8 793.7,1537.8C798.6,1539.7 804.9,1541.5 811.5,1542.5C818.1,1543.5 829.7,1543.7 833.4,1544.0" stroke-width="3.4"/><path d="M833.4,1544.0 L835.8,1544.9 L847.0,1554.4" stroke-width="3"/><path d="M838.1,1566.8 L847.0,1554.4 L852.9,1548.4" stroke-width="3"/><path d="M990.0,1417.1C997.1,1419.7 1018.4,1427.5 1032.7,1432.7C1046.9,1437.9 1064.4,1444.8 1075.3,1448.3C1086.2,1451.9 1094.3,1453.1 1098.1,1454.0" stroke-width="3.4"/><path d="M1098.1,1454.0C1098.8,1456.4 1101.8,1464.0 1102.3,1468.2C1102.8,1472.5 1102.1,1475.6 1100.9,1479.6C1099.7,1483.6 1097.6,1488.4 1095.2,1492.4C1092.8,1496.4 1090.0,1500.2 1086.7,1503.8C1083.4,1507.3 1077.2,1512.1 1075.3,1513.7" stroke-width="3.4"/><path d="M990.0,1492.4C994.7,1493.4 1009.0,1495.7 1018.4,1498.1C1027.9,1500.5 1037.4,1504.0 1046.9,1506.6C1056.4,1509.2 1070.6,1512.6 1075.3,1513.7" stroke-width="3.4"/><path d="M1028.4,1432.7C1028.7,1436.7 1031.0,1449.5 1030.5,1456.9C1030.0,1464.2 1028.7,1469.9 1025.5,1476.8C1022.3,1483.6 1013.7,1494.5 1011.3,1498.1" stroke-width="3.2"/><path d="M1044.7,1437.0C1045.1,1440.8 1047.2,1452.6 1046.9,1459.7C1046.5,1466.8 1045.2,1472.5 1042.6,1479.6C1040.0,1486.7 1033.1,1498.6 1031.2,1502.4" stroke-width="3.2"/><path d="M1073.2,1448.3C1073.5,1451.4 1075.9,1460.2 1075.3,1466.8C1074.7,1473.5 1073.2,1481.3 1069.6,1488.2C1066.1,1495.0 1056.6,1504.7 1054.0,1508.1" stroke-width="3.2"/><path d="M886.9,1450.0C885.0,1452.3 878.7,1458.7 875.5,1464.2C872.3,1469.6 869.9,1475.8 867.7,1482.7C865.6,1489.5 863.8,1497.8 862.7,1505.4C861.7,1513.0 861.3,1521.0 861.3,1528.2C861.3,1535.3 861.6,1541.9 862.7,1548.1C863.9,1554.2 865.8,1559.9 868.4,1565.1C871.0,1570.3 874.6,1575.3 878.4,1579.3C882.2,1583.4 887.6,1586.7 891.2,1589.3C894.7,1591.9 898.3,1594.0 899.7,1595.0" stroke-width="3.4"/><path d="M895.5,1461.3C893.6,1463.5 887.3,1468.9 884.1,1474.1C880.9,1479.3 878.2,1486.0 876.3,1492.6C874.4,1499.2 873.3,1506.6 872.7,1513.9C872.1,1521.3 871.9,1529.6 872.4,1536.7C872.9,1543.8 873.8,1550.4 875.5,1556.6C877.3,1562.7 879.1,1568.0 882.7,1573.6C886.2,1579.3 891.7,1585.3 896.9,1590.7C902.1,1596.2 908.7,1601.6 913.9,1606.4C919.1,1611.1 924.0,1615.2 928.2,1619.1C932.3,1623.1 938.1,1626.3 938.8,1629.8C939.5,1633.3 933.5,1638.3 932.4,1640.0" stroke-width="3.6"/><path d="M902.6,1467.7C900.4,1468.1 893.3,1468.3 889.8,1469.9C886.2,1471.4 883.4,1474.1 881.2,1477.0C879.1,1479.8 877.7,1485.3 877.0,1486.9" stroke-width="3"/><path d="M899.7,1486.9C897.6,1487.6 890.5,1489.8 886.9,1491.2C883.4,1492.6 879.8,1494.7 878.4,1495.5" stroke-width="3"/><path d="M899.7,1492.6C897.8,1494.3 891.4,1498.5 888.3,1502.6C885.3,1506.6 883.1,1511.8 881.2,1516.8C879.3,1521.8 877.8,1527.2 877.0,1532.4C876.1,1537.6 876.4,1545.5 876.3,1548.1" stroke-width="3"/><path d="M908.2,1501.1C906.4,1502.8 900.4,1507.1 896.9,1511.1C893.3,1515.1 889.5,1520.6 886.9,1525.3C884.3,1530.0 882.4,1534.8 881.2,1539.5C880.0,1544.3 879.6,1549.0 879.8,1553.7C880.0,1558.5 880.5,1563.7 882.7,1568.0C884.8,1572.2 890.9,1577.4 892.6,1579.3" stroke-width="3.2"/><path d="M878.4,1440.0C880.3,1441.2 885.3,1442.8 889.8,1447.1C894.3,1451.4 899.5,1459.9 905.4,1465.6C911.3,1471.3 919.6,1476.0 925.3,1481.2C931.0,1486.4 935.3,1490.5 939.5,1496.9C943.8,1503.3 948.1,1512.5 950.9,1519.6C953.7,1526.7 955.2,1532.4 956.6,1539.5C958.0,1546.6 958.7,1554.2 959.4,1562.3C960.1,1570.3 960.6,1583.6 960.9,1587.9" stroke-width="4.6"/><path d="M899.7,1472.7C900.7,1474.4 902.1,1479.3 905.4,1482.7C908.7,1486.0 913.9,1489.5 919.6,1492.6C925.3,1495.7 931.5,1498.3 939.5,1501.1C947.6,1504.0 958.5,1507.1 968.0,1509.7C977.4,1512.3 985.0,1514.9 996.4,1516.8C1007.8,1518.7 1025.3,1521.4 1036.2,1521.0C1047.1,1520.7 1054.5,1516.3 1061.8,1514.6C1069.1,1513.0 1077.0,1511.7 1080.0,1511.1" stroke-width="3.4"/><path d="M906.8,1496.9C909.9,1498.3 917.5,1502.1 925.3,1505.4C933.1,1508.7 944.3,1513.5 953.7,1516.8C963.2,1520.1 972.7,1522.9 982.2,1525.3C991.7,1527.7 1001.1,1529.8 1010.6,1531.0C1020.1,1532.2 1029.8,1532.7 1039.1,1532.4C1048.3,1532.2 1061.6,1530.0 1066.1,1529.6" stroke-width="3.4"/><path d="M1066.1,1529.6L1070.3,1516.8" stroke-width="3"/><path d="M979.3,1528.2C978.9,1530.5 978.4,1536.9 976.5,1542.4C974.6,1547.8 970.6,1556.1 968.0,1560.9C965.4,1565.6 962.0,1569.1 960.9,1570.8" stroke-width="3.2"/><path d="M996.4,1532.4C995.7,1535.5 995.0,1544.3 992.1,1550.9C989.3,1557.5 984.3,1565.8 979.3,1572.2C974.4,1578.6 965.1,1586.4 962.3,1589.3" stroke-width="3.2"/><path d="M997.8,1533.8C999.0,1537.2 1003.0,1546.9 1004.9,1553.7C1006.8,1560.6 1008.4,1568.0 1009.2,1575.1C1010.0,1582.2 1009.8,1592.8 1009.9,1596.4" stroke-width="3.4"/><path d="M1014.9,1535.3C1016.1,1538.3 1020.1,1547.1 1022.0,1553.7C1023.9,1560.4 1025.5,1568.4 1026.3,1575.1C1027.0,1581.7 1026.3,1590.5 1026.3,1593.6" stroke-width="3.4"/><path d="M1067.5,1531.0C1067.7,1534.8 1069.1,1546.4 1068.9,1553.7C1068.7,1561.1 1067.3,1568.4 1066.1,1575.1C1064.9,1581.7 1062.5,1590.5 1061.8,1593.6" stroke-width="3.2"/><path d="M963.7,1600.7C966.8,1600.7 975.5,1600.9 982.2,1600.7C988.8,1600.4 996.4,1600.2 1003.5,1599.2C1010.6,1598.3 1019.4,1596.4 1024.8,1595.0C1030.3,1593.6 1034.3,1591.4 1036.2,1590.7" stroke-width="3.4"/><path d="M892.6,1576.5C894.0,1575.1 897.6,1570.3 901.1,1568.0C904.7,1565.6 909.9,1563.5 913.9,1562.3C918.0,1561.1 921.0,1560.6 925.3,1560.9C929.6,1561.1 937.2,1563.2 939.5,1563.7" stroke-width="3.4"/><path d="M939.5,1559.4C940.5,1560.9 943.1,1564.6 945.2,1568.0C947.3,1571.3 950.0,1575.5 952.3,1579.3C954.7,1583.1 957.1,1586.7 959.4,1590.7C961.8,1594.7 964.2,1599.5 966.5,1603.5C968.9,1607.5 971.5,1611.1 973.6,1614.9C975.8,1618.7 977.7,1622.1 979.3,1626.3C981.0,1630.5 982.9,1637.7 983.6,1640.0" stroke-width="3.6"/><path d="M958.0,1629.1C958.2,1627.4 958.2,1621.8 959.4,1619.1C960.6,1616.5 963.2,1614.6 965.1,1613.5C967.0,1612.3 969.9,1612.3 970.8,1612.0" stroke-width="3"/><path d="M874.1,1585.0C874.1,1586.4 873.2,1590.7 874.1,1593.6C875.1,1596.4 877.4,1600.4 879.8,1602.1C882.2,1603.7 885.5,1604.0 888.3,1603.5C891.2,1603.0 895.2,1600.9 896.9,1599.2C898.5,1597.6 898.1,1594.5 898.3,1593.6" stroke-width="3.2"/><path d="M858.5,1511.1C858.4,1513.5 858.4,1520.6 857.8,1525.3C857.2,1530.0 856.5,1535.0 854.9,1539.5C853.4,1544.0 851.0,1548.5 848.5,1552.3C846.0,1556.1 841.4,1560.6 840.0,1562.3" stroke-width="3.4"/><path d="M1100.0,1476.0C1102.8,1472.7 1111.1,1462.5 1116.6,1456.1C1122.1,1449.8 1128.8,1442.8 1133.2,1437.9C1137.6,1432.9 1139.8,1430.7 1143.1,1426.3C1146.4,1421.8 1150.3,1415.8 1153.1,1411.3C1155.8,1406.9 1157.5,1403.3 1159.7,1399.7C1161.9,1396.1 1165.2,1391.4 1166.4,1389.8" stroke-width="3.6"/><path d="M1166.4,1389.8C1167.7,1388.9 1170.5,1386.2 1174.6,1384.8C1178.8,1383.4 1185.7,1382.9 1191.2,1381.5C1196.8,1380.1 1202.3,1378.4 1207.8,1376.5C1213.3,1374.6 1218.9,1372.6 1224.4,1369.9C1229.9,1367.1 1235.5,1363.2 1241.0,1359.9C1246.5,1356.6 1253.4,1351.3 1257.6,1350.0C1261.7,1348.6 1262.6,1350.5 1265.9,1351.6C1269.2,1352.7 1273.9,1354.1 1277.5,1356.6C1281.1,1359.1 1285.8,1364.9 1287.4,1366.5" stroke-width="3.6"/><path d="M1287.4,1366.5C1285.2,1368.5 1279.1,1374.3 1274.2,1378.2C1269.2,1382.0 1263.1,1386.7 1257.6,1389.8C1252.1,1392.8 1247.9,1394.2 1241.0,1396.4C1234.1,1398.6 1224.4,1401.1 1216.1,1403.0C1207.8,1405.0 1198.1,1406.1 1191.2,1408.0C1184.3,1409.9 1177.4,1413.5 1174.6,1414.6" stroke-width="3.6"/><path d="M1229.4,1378.2C1232.7,1376.5 1243.2,1372.2 1249.3,1368.2C1255.4,1364.2 1263.1,1356.4 1265.9,1354.1" stroke-width="2.6"/><path d="M1232.7,1388.1C1236.8,1386.4 1249.8,1382.3 1257.6,1378.2C1265.3,1374.0 1275.6,1365.7 1279.1,1363.2" stroke-width="2.6"/><path d="M1171.3,1396.4C1174.6,1397.1 1183.8,1400.1 1191.2,1400.5C1198.7,1401.0 1212.0,1399.2 1216.1,1398.9" stroke-width="2.6"/><path d="M1154.7,1408.0C1156.1,1409.1 1160.0,1413.1 1163.0,1414.6C1166.1,1416.2 1171.3,1416.7 1173.0,1417.1" stroke-width="3.2"/><path d="M1151.4,1414.6C1152.8,1415.6 1156.7,1419.1 1159.7,1420.5C1162.8,1421.8 1168.0,1422.5 1169.7,1422.9" stroke-width="3.2"/><path d="M1173.0,1416.3C1172.4,1417.4 1171.3,1419.1 1169.7,1422.9C1168.0,1426.8 1165.8,1434.0 1163.0,1439.5C1160.3,1445.1 1156.1,1450.6 1153.1,1456.1C1150.0,1461.6 1147.8,1465.8 1144.8,1472.7C1141.7,1479.6 1138.4,1489.8 1134.8,1497.6C1131.2,1505.3 1127.6,1513.3 1123.2,1519.1C1118.8,1525.0 1110.8,1530.2 1108.3,1532.4" stroke-width="3.6"/><path d="M1136.5,1439.5C1137.6,1440.5 1140.4,1443.7 1143.1,1445.3C1145.9,1447.0 1151.4,1448.8 1153.1,1449.5" stroke-width="3.2"/><path d="M1131.5,1446.2C1131.2,1447.5 1132.3,1450.3 1129.9,1454.5C1127.4,1458.6 1121.6,1465.5 1116.6,1471.0C1111.6,1476.6 1102.8,1484.9 1100.0,1487.6" stroke-width="2.4"/><path d="M1108.3,1532.4C1111.1,1533.5 1119.4,1537.4 1124.9,1539.1C1130.4,1540.7 1136.2,1541.4 1141.5,1542.4C1146.7,1543.3 1153.9,1544.4 1156.4,1544.9" stroke-width="3.4"/><path d="M1156.4,1560.0C1156.7,1557.3 1157.0,1550.3 1158.1,1544.0C1159.2,1537.8 1160.3,1529.4 1163.0,1522.5C1165.8,1515.6 1169.9,1509.5 1174.6,1502.6C1179.3,1495.6 1186.0,1487.9 1191.2,1481.0C1196.5,1474.1 1202.0,1466.9 1206.2,1461.1C1210.3,1455.3 1213.9,1450.3 1216.1,1446.2C1218.3,1442.0 1218.9,1437.9 1219.4,1436.2" stroke-width="3.6"/><path d="M1219.4,1436.2C1219.3,1434.5 1218.0,1429.6 1218.6,1426.3C1219.2,1422.9 1220.4,1418.8 1222.7,1416.3C1225.1,1413.8 1228.3,1412.4 1232.7,1411.3C1237.1,1410.2 1242.4,1410.5 1249.3,1409.7C1256.2,1408.8 1265.9,1408.0 1274.2,1406.4C1282.5,1404.7 1291.9,1401.8 1299.1,1399.7C1306.2,1397.6 1311.8,1394.5 1317.3,1393.9C1322.8,1393.4 1327.0,1394.6 1332.2,1396.4C1337.5,1398.2 1343.6,1401.5 1348.8,1404.7C1354.1,1407.9 1361.3,1413.7 1363.7,1415.5" stroke-width="3.6"/><path d="M1363.7,1415.5C1361.3,1417.0 1354.1,1422.2 1348.8,1424.6C1343.6,1426.9 1340.5,1428.2 1332.2,1429.6C1323.9,1431.0 1308.7,1431.9 1299.1,1432.9C1289.4,1433.9 1281.1,1434.3 1274.2,1435.4C1267.3,1436.5 1261.7,1438.0 1257.6,1439.5C1253.4,1441.0 1250.7,1443.7 1249.3,1444.5" stroke-width="3.6"/><path d="M1275.8,1412.2C1281.1,1411.1 1298.2,1407.7 1307.3,1405.5C1316.5,1403.3 1326.7,1400.0 1330.6,1398.9" stroke-width="2.6"/><path d="M1294.1,1418.0C1299.1,1416.9 1315.1,1413.1 1323.9,1411.3C1332.8,1409.5 1343.3,1407.9 1347.2,1407.2" stroke-width="2.6"/><path d="M1227.7,1425.4C1231.3,1426.3 1241.5,1429.6 1249.3,1430.4C1257.0,1431.2 1266.4,1430.8 1274.2,1430.4C1281.9,1430.0 1292.1,1428.3 1295.7,1427.9" stroke-width="2.6"/><path d="M1218.6,1437.9C1221.0,1438.8 1227.6,1442.4 1232.7,1443.7C1237.8,1444.9 1246.5,1445.1 1249.3,1445.3" stroke-width="3.2"/><path d="M1216.1,1442.8C1218.6,1443.9 1226.1,1447.8 1231.0,1449.5C1236.0,1451.1 1243.5,1452.2 1246.0,1452.8" stroke-width="3.2"/><path d="M1249.3,1444.5C1248.2,1446.4 1244.9,1451.7 1242.7,1456.1C1240.4,1460.5 1238.2,1466.3 1236.0,1471.0C1233.8,1475.7 1231.6,1479.9 1229.4,1484.3C1227.2,1488.7 1225.0,1492.6 1222.7,1497.6C1220.5,1502.6 1218.6,1508.1 1216.1,1514.2C1213.6,1520.3 1210.6,1526.4 1207.8,1534.1C1205.1,1541.7 1200.9,1555.6 1199.5,1560.0" stroke-width="3.6"/><path d="M1202.8,1467.7C1204.5,1469.4 1208.4,1475.2 1212.8,1477.7C1217.2,1480.2 1226.6,1481.8 1229.4,1482.7" stroke-width="3.2"/><path d="M1224.4,1490.9C1223.0,1491.2 1218.3,1491.8 1216.1,1492.6C1213.9,1493.4 1213.3,1492.3 1211.1,1495.9C1208.9,1499.5 1205.9,1507.5 1202.8,1514.2C1199.8,1520.8 1196.2,1528.1 1192.9,1535.7C1189.6,1543.4 1184.6,1555.9 1182.9,1560.0" stroke-width="3.4"/><path d="M1177.7,1566.3C1171.3,1566.8 1151.4,1569.7 1139.5,1569.6C1127.6,1569.4 1114.9,1566.1 1106.4,1565.4C1097.8,1564.7 1092.5,1564.2 1088.1,1565.4C1083.7,1566.7 1081.1,1570.0 1079.8,1572.9C1078.6,1575.8 1079.0,1580.1 1080.6,1582.8C1082.3,1585.6 1084.1,1587.5 1089.8,1589.5C1095.4,1591.4 1106.4,1593.3 1114.6,1594.5C1122.9,1595.6 1131.2,1596.4 1139.5,1596.1C1147.8,1595.8 1157.8,1594.2 1164.4,1592.8C1171.0,1591.4 1175.2,1590.9 1179.3,1587.8C1183.5,1584.8 1186.0,1580.4 1189.3,1574.5C1192.6,1568.7 1196.2,1560.5 1199.2,1553.0C1202.3,1545.5 1204.8,1537.2 1207.5,1529.8C1210.3,1522.3 1212.8,1515.4 1215.8,1508.2C1218.9,1501.0 1223.3,1491.3 1225.8,1486.6C1228.3,1481.9 1229.9,1481.1 1230.8,1480.0" stroke-width="3.6"/><path d="M1177.7,1566.3C1179.1,1563.8 1182.9,1557.4 1186.0,1551.3C1189.0,1545.2 1192.9,1536.7 1195.9,1529.8C1199.0,1522.9 1201.7,1515.4 1204.2,1509.9C1206.7,1504.3 1208.1,1499.5 1210.9,1496.6C1213.6,1493.7 1219.1,1493.1 1220.8,1492.4" stroke-width="3.4"/><path d="M1157.8,1558.0C1157.8,1555.5 1156.9,1548.3 1157.8,1543.0C1158.6,1537.8 1160.3,1532.0 1162.7,1526.4C1165.2,1520.9 1168.8,1515.9 1172.7,1509.9C1176.6,1503.8 1182.7,1494.9 1186.0,1490.0C1189.3,1485.0 1191.5,1481.7 1192.6,1480.0" stroke-width="3.4"/><path d="M1089.8,1528.1C1093.1,1529.5 1102.8,1533.9 1109.7,1536.4C1116.6,1538.9 1123.5,1541.5 1131.2,1543.0C1139.0,1544.6 1152.0,1545.1 1156.1,1545.5" stroke-width="3.4"/><path d="M1108.0,1533.1C1109.9,1531.1 1115.5,1526.7 1119.6,1521.5C1123.8,1516.2 1129.3,1508.5 1132.9,1501.6C1136.5,1494.7 1139.8,1483.6 1141.2,1480.0" stroke-width="3.4"/><path d="M1091.4,1503.2L1114.6,1516.5" stroke-width="3"/><path d="M1073.2,1514.8C1075.4,1516.8 1082.3,1522.0 1086.4,1526.4C1090.6,1530.9 1096.1,1538.9 1098.1,1541.4" stroke-width="3"/><path d="M1067.4,1531.4C1067.8,1534.5 1069.9,1542.8 1069.9,1549.7C1069.9,1556.6 1068.8,1566.3 1067.4,1572.9C1066.0,1579.5 1063.4,1585.1 1061.6,1589.5C1059.8,1593.9 1059.6,1596.4 1056.6,1599.4C1053.5,1602.5 1045.5,1606.3 1043.3,1607.7" stroke-width="3.2"/><path d="M1040.0,1593.6C1045.5,1594.0 1062.1,1595.4 1073.2,1596.1C1084.2,1596.8 1095.3,1597.4 1106.4,1597.8C1117.4,1598.2 1131.2,1598.5 1139.5,1598.6C1147.8,1598.7 1153.3,1598.2 1156.1,1598.1" stroke-width="3.4"/><path d="M862.7,1560.0C865.0,1562.4 872.8,1570.7 876.9,1574.2C880.9,1577.8 883.0,1578.5 886.8,1581.3C890.6,1584.2 895.4,1587.7 899.6,1591.3C903.9,1594.8 907.7,1598.6 912.4,1602.7C917.2,1606.7 923.8,1611.2 928.1,1615.5C932.3,1619.7 936.6,1625.2 938.0,1628.2C939.4,1631.3 936.8,1633.0 936.6,1633.9" stroke-width="4.2"/><path d="M936.6,1633.9C933.7,1635.8 925.9,1641.0 919.5,1645.3C913.1,1649.6 904.1,1655.5 898.2,1659.5C892.3,1663.6 888.7,1666.6 884.0,1669.5C879.2,1672.3 874.5,1674.6 869.8,1676.6C865.0,1678.6 857.9,1680.7 855.5,1681.6" stroke-width="3.6"/><path d="M943.7,1565.7C945.4,1568.1 950.6,1575.2 953.6,1579.9C956.7,1584.6 959.3,1589.6 962.2,1594.1C965.0,1598.6 968.1,1602.7 970.7,1606.9C973.3,1611.2 975.7,1615.2 977.8,1619.7C980.0,1624.2 982.3,1629.2 983.5,1633.9C984.7,1638.7 985.4,1644.8 984.9,1648.2C984.5,1651.5 981.4,1652.9 980.7,1653.8" stroke-width="3.6"/><path d="M980.7,1653.8C977.6,1655.5 968.8,1660.5 962.2,1663.8C955.5,1667.1 948.0,1670.7 940.9,1673.7C933.7,1676.8 925.5,1679.9 919.5,1682.3C913.6,1684.6 911.0,1685.4 905.3,1688.0C899.6,1690.6 888.7,1696.3 885.4,1697.9" stroke-width="3.6"/><path d="M893.9,1578.5C894.4,1577.3 894.4,1573.7 896.8,1571.4C899.1,1569.0 903.9,1565.8 908.2,1564.3C912.4,1562.7 917.4,1562.4 922.4,1562.1C927.3,1561.9 934.5,1562.3 938.0,1562.8C941.6,1563.4 942.7,1565.2 943.7,1565.7" stroke-width="3.4"/><path d="M970.7,1611.2C969.3,1612.1 964.3,1614.3 962.2,1616.9C960.0,1619.5 958.2,1623.0 957.9,1626.8C957.7,1630.6 958.6,1635.8 960.8,1639.6C962.9,1643.4 969.1,1647.9 970.7,1649.6" stroke-width="3"/><path d="M977.8,1628.2C976.4,1628.7 972.4,1629.4 969.3,1631.1C966.2,1632.7 962.9,1635.4 959.3,1638.2C955.8,1641.0 952.2,1644.8 948.0,1648.2C943.7,1651.5 938.5,1655.0 933.7,1658.1C929.0,1661.2 924.7,1663.3 919.5,1666.6C914.3,1670.0 905.3,1676.1 902.5,1678.0" stroke-width="4"/><path d="M893.9,1668.1C894.4,1669.7 894.6,1674.9 896.8,1678.0C898.9,1681.1 905.1,1685.1 906.7,1686.5" stroke-width="3"/><path d="M874.0,1679.4C874.5,1680.9 875.0,1684.9 876.9,1688.0C878.8,1691.0 884.0,1696.3 885.4,1697.9" stroke-width="3"/><path d="M855.5,1681.6C854.4,1682.4 850.8,1684.3 848.4,1686.5C846.1,1688.8 843.2,1692.8 841.3,1695.1C839.4,1697.3 837.3,1698.9 837.1,1700.0C836.8,1701.2 838.2,1701.6 839.9,1702.2C841.6,1702.8 844.9,1704.1 847.0,1703.6C849.1,1703.1 850.8,1701.2 852.7,1699.3C854.6,1697.4 857.4,1693.4 858.4,1692.2" stroke-width="3.4"/><path d="M847.0,1703.6C846.1,1704.8 843.2,1707.6 841.3,1710.7C839.4,1713.8 837.2,1718.1 835.6,1722.1C834.1,1726.1 832.3,1732.3 832.1,1734.9C831.8,1737.5 831.5,1737.0 834.2,1737.7C836.9,1738.4 844.6,1739.6 848.4,1739.1C852.2,1738.7 854.1,1737.0 857.0,1734.9C859.8,1732.7 862.7,1729.7 865.5,1726.4C868.3,1723.0 871.4,1718.8 874.0,1715.0C876.6,1711.2 879.2,1706.4 881.1,1703.6C883.0,1700.8 884.7,1698.9 885.4,1697.9" stroke-width="3.4"/><path d="M852.7,1715.0C851.0,1716.9 845.6,1723.0 842.7,1726.4C839.9,1729.7 836.8,1733.5 835.6,1734.9" stroke-width="2.6"/><path d="M857.0,1719.2C855.5,1720.9 850.6,1726.1 848.4,1729.2C846.3,1732.3 844.9,1736.3 844.2,1737.7" stroke-width="2.6"/><path d="M862.7,1724.9L855.5,1733.5" stroke-width="2.6"/><path d="M875.5,1585.6C875.2,1587.0 873.6,1591.8 874.0,1594.1C874.5,1596.5 876.2,1598.4 878.3,1599.8C880.4,1601.2 883.7,1602.4 886.8,1602.7C889.9,1602.9 894.6,1602.4 896.8,1601.2C898.9,1600.0 899.1,1596.5 899.6,1595.5" stroke-width="3.2"/><path d="M966.4,1601.2C970.5,1601.0 981.8,1600.8 990.6,1599.8C999.4,1598.9 1011.9,1597.0 1019.1,1595.5C1026.2,1594.1 1026.4,1591.5 1033.3,1591.3C1040.1,1591.0 1055.5,1593.6 1060.0,1594.1" stroke-width="3.4"/><path d="M1043.2,1608.3C1045.1,1606.9 1051.8,1602.2 1054.6,1599.8C1057.4,1597.4 1059.1,1595.1 1060.0,1594.1" stroke-width="3"/></g></svg>
<div style="position:absolute;left:133.5px;top:2393px;width:76px;height:76px;border-radius:50%;background:radial-gradient(circle 46px at 56% 60%, #ffffff 0%, #fdfdfd 30%, #ededed 62%, #dadada 84%, #c9c9c9 100%);box-shadow:inset 0 0 0 1px #c6c6c6;"></div>
<div style="position:absolute;left:133.5px;top:2393px;width:76px;height:76px;text-align:center;font-weight:bold;font-size:25px;line-height:76px;transform:scaleX(0.93);">24</div>
<div style="position:absolute;left:1509px;top:2411.9px;font-size:25.6px;line-height:30px;white-space:nowrap;">© Chalkboard Publishing</div>
</body></html>
